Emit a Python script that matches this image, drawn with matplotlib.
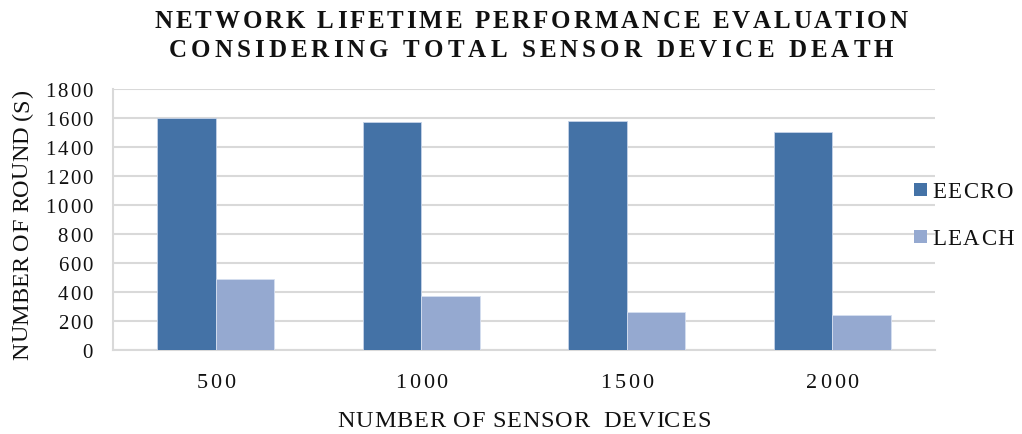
import matplotlib
matplotlib.use("Agg")
import matplotlib.pyplot as plt
import numpy as np
from matplotlib.font_manager import FontProperties, findfont, get_font
from matplotlib.patches import Rectangle

try:
    from matplotlib.ft2font import LoadFlags
    NOHINT = LoadFlags.NO_HINTING
except Exception:
    from matplotlib.ft2font import LOAD_NO_HINTING as NOHINT

# ---------------- data ----------------
categories = ["500", "1000", "1500", "2000"]
series_names = ["EECRO", "LEACH"]
eecro = [1600, 1570, 1580, 1505]
leach = [490, 370, 265, 240]
yticks = [0, 200, 400, 600, 800, 1000, 1200, 1400, 1600, 1800]
title_lines = ["NETWORK LIFETIME PERFORMANCE EVALUATION",
               "CONSIDERING TOTAL SENSOR DEVICE DEATH"]
xlabel = "NUMBER OF SENSOR  DEVICES"
ylabel = "NUMBER OF ROUND (S)"

# ---------------- layout ----------------
W, H = 1022, 435
DPI = 100
colors = ["#4472a6", "#95a9d0"]
edge = ["#c5d3e8", "#d6dff0"]
SERIF = "Liberation Serif"

fig = plt.figure(figsize=(W / DPI, H / DPI), dpi=DPI)
L, R, T, B = 113, 935, 90, 351
ax = fig.add_axes([L / W, 1 - B / H, (R - L) / W, (B - T) / H])

x = np.arange(len(categories))
bw = 0.285
ax.bar(x - bw / 2, eecro, bw, color=colors[0], edgecolor=edge[0], linewidth=0.6, zorder=3)
ax.bar(x + bw / 2, leach, bw, color=colors[1], edgecolor=edge[1], linewidth=0.6, zorder=3)
ax.set_xlim(-0.5, len(categories) - 0.5)
ax.set_ylim(0, 1800)
ax.set_yticks(yticks)
ax.set_xticks(x)
ax.set_xticklabels([])
ax.set_yticklabels([])
ax.tick_params(length=0)
ax.yaxis.grid(True, color="#d9d9d9", linewidth=1.5, zorder=0)
ax.set_axisbelow(True)
for s in ["top", "right"]:
    ax.spines[s].set_visible(False)
for s in ["left", "bottom"]:
    ax.spines[s].set_color("#d9d9d9")
    ax.spines[s].set_linewidth(1.5)


def adv(ch, size, weight):
    prop = FontProperties(family=SERIF, size=size, weight=weight)
    font = get_font(findfont(prop))
    font.set_size(size, DPI)
    g = font.load_char(ord(ch), flags=NOHINT)
    return g.linearHoriAdvance / 65536.0


def spaced(s, x0, y0, size, weight="normal", spacing=0.0, target=None,
           ha="center", vertical=False):
    """Draw text with letter spacing; (x0, y0) in pixels from top-left, baseline anchored."""
    advs = [adv(c, size, weight) for c in s]
    if target is not None and len(s) > 1:
        spacing = (target - sum(advs)) / (len(s) - 1)
    total = sum(advs) + spacing * (len(s) - 1)
    if ha == "center":
        start = -total / 2
    elif ha == "right":
        start = -total
    else:
        start = 0.0
    pos = start
    for c, a in zip(s, advs):
        mid = pos + a / 2
        kw = dict(ha="center", va="baseline", family=SERIF, size=size,
                  weight=weight, color="#111111")
        if vertical:
            px, py = x0, y0 - mid
            fig.text(px / W, 1 - py / H, c, rotation=90, rotation_mode="anchor", **kw)
        else:
            px, py = x0 + mid, y0
            fig.text(px / W, 1 - py / H, c, **kw)
        pos += a + spacing


fig.canvas.draw()

# title
spaced(title_lines[0], 531, 28, 18, weight="bold", target=753)
spaced(title_lines[1], 531, 57, 18, weight="bold", target=725)

# y tick labels
for v in yticks:
    _, py = ax.transData.transform((0, v))
    ypix = H - py
    spaced(str(v), 93, ypix + 7, 15, spacing=2.0, ha="right")

# x tick labels
for i, c in enumerate(categories):
    px, _ = ax.transData.transform((i, 0))
    spaced(c, px, 388, 16, spacing=2.8)

# axis labels
spaced(xlabel, 524, 427, 17.5, target=373)
spaced(ylabel, 28, 225, 17.5, target=270, vertical=True)

# legend
leg_y = [190, 237]
for name, col, ly in zip(series_names, colors, leg_y):
    fig.patches.append(Rectangle((914 / W, 1 - (ly + 7) / H), 13 / W, 13 / H,
                                 transform=fig.transFigure, facecolor=col,
                                 edgecolor="none"))
    spaced(name, 932, ly + 8, 16.5, spacing=1.5, ha="left")

fig.savefig("out.png", dpi=DPI, facecolor="white")
